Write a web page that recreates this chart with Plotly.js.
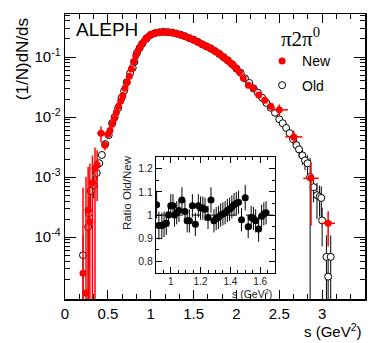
<!DOCTYPE html>
<html><head><meta charset="utf-8">
<script src="https://cdn.plot.ly/plotly-3.0.1.min.js"></script>
<style>html,body{margin:0;padding:0;background:#fff;}#chart{width:374px;height:343px;}</style>
</head><body><div id="chart"></div>
<script>
// ---- New (red) ----
const newS = [0.21,0.245,0.27,0.29,0.32,0.35,0.375,0.42,0.465,
 0.500,0.525,0.550,0.575,0.600,0.625,0.650,0.675,0.700,0.725,0.750,0.775,0.800,0.825,0.850,0.875,0.900,0.925,0.950,0.975,
 1.000,1.025,1.050,1.075,1.100,1.125,1.150,1.175,1.200,1.225,1.250,1.275,1.300,1.325,1.350,1.375,1.400,1.425,1.450,1.475,
 1.500,1.525,1.550,1.575,1.600,1.625,1.650,1.675,1.700,1.725,1.750,1.775,1.800,1.825,1.850,1.875,1.900,1.925,1.950,1.975,2.000,
 2.035,2.08,2.14,2.20,2.26,2.33,2.40,2.50,2.67,2.87,3.07];
const newY = [2.5e-5,1.17e-5,2.8e-4,1.8e-4,8.0e-4,1.41e-3,1.6e-3,5.37e-3,3.4e-3,
 5.2e-3,6.0e-3,7.6e-3,9.5e-3,0.0120,0.0151,0.0186,0.0229,0.0302,0.0380,0.0479,0.0631,0.0832,0.105,0.126,0.145,0.166,0.186,0.204,0.221,
 0.234,0.245,0.251,0.256,0.259,0.261,0.262,0.262,0.260,0.258,0.254,0.250,0.245,0.240,0.234,0.228,0.221,0.214,0.207,0.200,
 0.193,0.185,0.178,0.171,0.164,0.157,0.151,0.145,0.138,0.132,0.126,0.119,0.112,0.106,0.100,0.0935,0.0871,0.0813,0.0759,0.0700,0.0646,
 0.0562,0.0447,0.0339,0.0302,0.0234,0.0191,0.0151,0.0132,0.00468,0.000955,0.00017];
const newErrY = [6.4e-4,1.0e-3,1.2e-3,1.5e-3,1.5e-3,1.7e-3,1.2e-3,1.6e-3,6e-4,
 3e-4,3e-4,3e-4,3e-4,4e-4,4e-4,5e-4,6e-4,7e-4,8e-4,9e-4,1e-3,1.1e-3,1.2e-3,1.3e-3,1.4e-3,1.5e-3,1.6e-3,1.7e-3,1.8e-3,
 1.8e-3,1.8e-3,1.8e-3,1.8e-3,1.8e-3,1.8e-3,1.8e-3,1.8e-3,1.8e-3,1.8e-3,1.8e-3,1.8e-3,1.8e-3,1.8e-3,1.8e-3,1.8e-3,1.8e-3,1.8e-3,1.8e-3,1.8e-3,
 1.8e-3,1.8e-3,1.8e-3,1.8e-3,1.8e-3,1.8e-3,1.8e-3,1.8e-3,1.8e-3,1.8e-3,1.8e-3,1.8e-3,1.8e-3,1.8e-3,1.8e-3,1.8e-3,1.8e-3,1.8e-3,1.8e-3,1.8e-3,1.8e-3,
 2.5e-3,2.0e-3,2.0e-3,1.6e-3,1.4e-3,1.2e-3,1.1e-3,3.0e-3,1.2e-3,8.0e-4,1.0e-4];
const newErrS = [0,0,0,0,0,0,0,0.045,0,
 0,0,0,0,0,0,0,0,0,0,0,0,0,0,0,0,0,0,0,0,
 0,0,0,0,0,0,0,0,0,0,0,0,0,0,0,0,0,0,0,0,
 0,0,0,0,0,0,0,0,0,0,0,0,0,0,0,0,0,0,0,0,0,
 0.015,0.02,0.025,0.025,0.03,0.035,0.04,0.1,0.1,0.09,0.08];

// ---- Old (open circles) ----
const oldS = [0.21,0.27,0.28,0.30,0.335,0.37,0.40,0.43,0.47,0.51,0.55,0.58,0.62,0.66,0.69,0.72,0.76,0.79,0.81,0.84,0.87,
 0.90,0.95,1.00,1.05,1.10,1.15,1.20,1.25,1.30,1.35,1.40,1.45,1.50,1.55,1.60,1.65,1.70,1.75,1.80,1.85,1.90,1.95,
 2.00,2.05,2.10,2.15,2.20,2.25,2.30,2.35,2.40,2.45,2.50,2.54,2.58,2.62,2.66,2.70,2.73,2.77,2.80,2.83,2.86,
 2.90,2.94,2.97,2.99,3.00,3.05,3.07,3.10];
const oldY = [5.0e-5,1.48e-4,2.51e-4,5.89e-4,7.41e-4,1.17e-3,1.70e-3,2.34e-3,3.55e-3,5.0e-3,7.94e-3,1.0e-2,1.41e-2,2.09e-2,2.75e-2,3.8e-2,5.37e-2,6.61e-2,8.32e-2,0.117,0.141,
 0.166,0.204,0.234,0.250,0.258,0.263,0.259,0.256,0.246,0.235,0.222,0.207,0.194,0.179,0.163,0.151,0.139,0.126,0.113,0.0995,0.0880,0.0760,
 0.0640,0.0545,0.0440,0.0370,0.0300,0.0255,0.0210,0.0172,0.0143,0.0118,0.0092,0.0079,0.0066,0.0054,0.0043,0.0034,0.0029,0.0023,0.0019,0.0017,0.0010,
 6.8e-4,5.0e-4,4.7e-4,4.5e-4,1.9e-4,4.7e-5,2.2e-5,4.7e-5];
const oldErrY = [6e-5,1.6e-4,2.2e-4,3e-4,3e-4,3e-4,3e-4,3e-4,3e-4,3e-4,4e-4,4e-4,5e-4,6e-4,7e-4,8e-4,1e-3,1e-3,1e-3,1.5e-3,1.6e-3,
 1.7e-3,2e-3,2e-3,2e-3,2e-3,2e-3,2e-3,2e-3,2e-3,2e-3,2e-3,2e-3,2e-3,2e-3,2e-3,2e-3,2e-3,2e-3,2e-3,2e-3,2e-3,2e-3,
 2e-3,2e-3,2e-3,1.5e-3,1.2e-3,1.2e-3,1.1e-3,1.0e-3,1.0e-3,9e-4,8e-4,8e-4,8e-4,8e-4,8e-4,8e-4,7e-4,7e-4,6e-4,6e-4,1.1e-3,
 3e-4,3e-4,2.5e-4,2.5e-4,1.2e-4,6e-5,3e-5,6e-5];

// ---- Inset ratio Old/New ----
const ratioS = [0.905,0.92,0.94,0.955,0.97,0.985,1.0,1.015,1.025,1.04,1.055,1.075,1.095,1.11,1.125,1.145,1.165,1.185,1.2,1.215,1.23,1.25,
 1.27,1.29,1.305,1.32,1.335,1.35,1.365,1.38,1.395,1.41,1.425,1.44,1.455,1.475,1.5,1.52,1.54,1.555,1.57,1.59,1.61,1.625,1.64];
const ratioR = [1.045,0.955,0.955,0.96,0.965,1.0,1.04,1.04,1.0,1.01,1.02,1.065,1.015,0.975,0.975,1.04,0.96,1.04,1.03,1.03,1.025,0.99,
 1.065,0.975,0.985,0.99,1.0,1.005,1.01,1.02,1.025,1.035,1.045,1.05,1.055,0.98,1.075,0.95,0.99,0.985,0.975,0.94,0.995,1.005,1.01];
const ratioErr = [0.06,0.06,0.055,0.055,0.05,0.05,0.05,0.05,0.05,0.05,0.05,0.055,0.05,0.05,0.05,0.05,0.05,0.05,0.05,0.05,0.05,0.05,
 0.055,0.05,0.05,0.05,0.05,0.05,0.05,0.05,0.05,0.05,0.05,0.05,0.05,0.05,0.055,0.05,0.05,0.05,0.05,0.055,0.05,0.05,0.05];

const yTickVals = [1e-4,1e-3,1e-2,1e-1];
const yTickText = ['10<sup>-4</sup>','10<sup>-3</sup>','10<sup>-2</sup>','10<sup>-1</sup>'];

// minor tick positions (styling)
const yMinor = [];
for (let e=-5;e<=-1;e++) for (let k=2;k<=9;k++) yMinor.push(k*Math.pow(10,e));
const xMinor = [];
for (let i=0;i<=21;i++) xMinor.push(i/6);

const F = 'Liberation Sans, Arial, Helvetica, sans-serif';

const traces = [
 {x: oldS, y: oldY, type:'scatter', mode:'markers', name:'Old', xaxis:'x', yaxis:'y', legendgroup:'o', legendrank:2,
  marker:{symbol:'circle', size:7, color:'#fff', line:{color:'#000', width:1}},
  error_y:{type:'data', array: oldErrY, color:'#000', thickness:1, width:0}},
 {x: newS, y: newY, type:'scatter', mode:'markers', name:'New', xaxis:'x', yaxis:'y', legendgroup:'n', legendrank:1,
  marker:{symbol:'circle', size:7, color:'#ff0000'},
  error_y:{type:'data', array: newErrY, color:'#ff0000', thickness:1.5, width:0},
  error_x:{type:'data', array: newErrS, color:'#ff0000', thickness:1.5, width:0}},
 {x: ratioS, y: ratioR, type:'scatter', mode:'markers', name:'ratio', showlegend:false, xaxis:'x2', yaxis:'y2',
  marker:{symbol:'circle', size:7, color:'#000'},
  error_y:{type:'data', array: ratioErr, color:'#000', thickness:1, width:0}}
];

const layout = {
 width:374, height:343, margin:{l:65, r:9, t:14, b:44},
 paper_bgcolor:'#fff', plot_bgcolor:'rgba(0,0,0,0)',
 font:{family:F, color:'#000'},
 showlegend:true,
 legend:{x:0.657, y:0.89, xanchor:'left', yanchor:'top', font:{family:F, size:14}, bgcolor:'rgba(0,0,0,0)',
   traceorder:'grouped', tracegroupgap:3},
 xaxis:{domain:[0,1], range:[0,3.5], tick0:0, dtick:0.5, ticks:'inside', ticklen:9, tickwidth:1, tickcolor:'#000',
   showline:true, linecolor:'#000', linewidth:1.5, mirror:'allticks', showgrid:false, zeroline:false,
   tickfont:{size:15, family:F}, anchor:'y',
   minor:{tickmode:'array', tickvals:xMinor, ticks:'inside', ticklen:5, tickcolor:'#000', tickwidth:1, showgrid:false}},
 yaxis:{domain:[0,1], type:'log', range:[-5.03,-0.283], tickmode:'array', tickvals:yTickVals, ticktext:yTickText,
   ticks:'inside', ticklen:11, tickwidth:1, tickcolor:'#000',
   showline:true, linecolor:'#000', linewidth:1.5, mirror:'allticks', showgrid:false, zeroline:false,
   tickfont:{size:15, family:F}, anchor:'x',
   minor:{tickmode:'array', tickvals:yMinor, ticks:'inside', ticklen:5, tickcolor:'#000', tickwidth:1, showgrid:false}},
 xaxis2:{domain:[0.303,0.70], range:[0.9,1.7], tick0:1, dtick:0.2, ticks:'inside', ticklen:6, tickcolor:'#000',
   showline:true, linecolor:'#000', linewidth:1, mirror:'allticks', showgrid:false, zeroline:false,
   tickfont:{size:10, family:F, color:'#222'}, anchor:'y2', ticklabelstandoff:-1,
   minor:{dtick:0.05, ticks:'inside', ticklen:3, tickcolor:'#000', showgrid:false}},
 yaxis2:{domain:[0.091,0.498], range:[0.75,1.25], tick0:0.8, dtick:0.1, ticks:'inside', ticklen:6, tickcolor:'#000',
   showline:true, linecolor:'#000', linewidth:1, mirror:'allticks', showgrid:false, zeroline:false,
   tickfont:{size:10.5, family:F, color:'#222'}, anchor:'x2',
   minor:{dtick:0.05, ticks:'inside', ticklen:3, tickcolor:'#000', showgrid:false}},
 shapes:[
  {type:'line', xref:'x2 domain', yref:'y2', x0:0, x1:1, y0:1, y1:1, line:{color:'#000', width:1, dash:'dash'}}
 ],
 annotations:[
  {text:'ALEPH', xref:'paper', yref:'paper', x:0.03, y:0.944, xanchor:'left', yanchor:'middle', showarrow:false, font:{size:19, family:F}},
  {text:'(1/N)dN/ds', xref:'paper', yref:'paper', x:-0.143, y:0.842, xanchor:'center', yanchor:'middle', textangle:-90, showarrow:false, font:{size:17, family:F}},
  {text:'s (GeV<sup>2</sup>)', xref:'paper', yref:'paper', x:0.997, y:-0.109, xanchor:'right', yanchor:'middle', showarrow:false, font:{size:15, family:F}},
  {text:'π2π<sup>0</sup>', xref:'paper', yref:'paper', x:0.712, y:0.916, xanchor:'left', yanchor:'middle', showarrow:false, font:{size:21, family:'Liberation Serif, Times New Roman, serif'}},
  {text:'Ratio Old/New', xref:'paper', yref:'paper', x:0.207, y:0.372, xanchor:'center', yanchor:'middle', textangle:-90, showarrow:false, font:{size:11.5, family:F, color:'#222'}},
  {text:'s (GeV<sup>2</sup>)', xref:'paper', yref:'paper', x:0.697, y:0.019, xanchor:'right', yanchor:'middle', showarrow:false, font:{size:10.5, family:F, color:'#222'}}
 ]
};

Plotly.newPlot('chart', traces, layout, {staticPlot:true, displayModeBar:false});
</script></body></html>
